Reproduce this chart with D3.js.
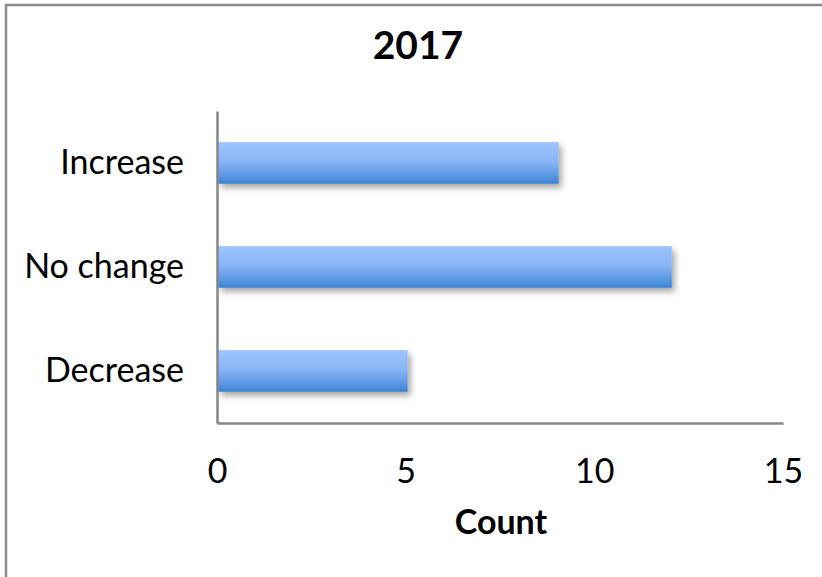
<!DOCTYPE html>
<html><head><meta charset="utf-8">
<script src="https://cdn.jsdelivr.net/npm/d3@7"></script>
<style>html,body{margin:0;padding:0;background:#fff;}svg{display:block;}</style>
</head><body>
<script>
const title = "2017";
const categories = ["Increase", "No change", "Decrease"];
const counts = [9, 12, 5];
const xTicks = [0, 5, 10, 15];
const xLabel = "Count";

(function () {
const W = 822, H = 577;
const FONT = "Lato, 'Open Sans', sans-serif";
const svg = d3.select("body").append("svg").attr("width", W).attr("height", H);

const defs = svg.append("defs");
const grad = defs.append("linearGradient").attr("id", "barGrad")
  .attr("x1", 0).attr("y1", 0).attr("x2", 0).attr("y2", 1);
grad.append("stop").attr("offset", "0%").attr("stop-color", "#9cc3ff");
grad.append("stop").attr("offset", "45%").attr("stop-color", "#8ab6f6");
grad.append("stop").attr("offset", "100%").attr("stop-color", "#3d84d6");
const f = defs.append("filter").attr("id", "shadow").attr("x", "-10%").attr("y", "-30%").attr("width", "130%").attr("height", "190%");
f.append("feDropShadow").attr("dx", 3).attr("dy", 4).attr("stdDeviation", 3)
  .attr("flood-color", "#000").attr("flood-opacity", 0.35);

// outer border
svg.append("rect").attr("x", 6).attr("y", 5).attr("width", W + 10).attr("height", H + 10)
  .attr("fill", "none").attr("stroke", "#8a8a8a").attr("stroke-width", 2.5);

const pL = 217, pR = 783, pT = 111, pB = 423;
const x = d3.scaleLinear().domain([0, 15]).range([pL, pR]);
const y = d3.scaleBand().domain(categories).range([pT, pB]).paddingInner(0.6).paddingOuter(0.3);

// bars
svg.append("g").selectAll("rect").data(categories).join("rect")
  .attr("x", x(0) + 1)
  .attr("y", d => y(d))
  .attr("width", (d, i) => x(counts[i]) - x(0) + 1)
  .attr("height", y.bandwidth())
  .attr("fill", "url(#barGrad)")
  .attr("filter", "url(#shadow)");

// axes
const xAxis = svg.append("g").attr("transform", `translate(0,${pB})`)
  .call(d3.axisBottom(x).tickValues(xTicks).tickSize(0).tickPadding(36).tickFormat(d3.format("d")));
xAxis.select(".domain").attr("stroke", "#868686").attr("stroke-width", 2.5);
xAxis.selectAll("text").attr("font-family", FONT).attr("font-size", 34).attr("fill", "#000");

const yAxis = svg.append("g").attr("transform", `translate(${pL},0)`)
  .call(d3.axisLeft(y).tickSize(0).tickPadding(33));
yAxis.select(".domain").attr("stroke", "#868686").attr("stroke-width", 2.5);
yAxis.selectAll("text").attr("font-family", FONT).attr("font-size", 34).attr("fill", "#000");

// title and axis label
svg.append("text").attr("x", 418).attr("y", 59).attr("text-anchor", "middle")
  .attr("font-family", FONT).attr("font-weight", "bold").attr("font-size", 39).text(title);
svg.append("text").attr("x", 501).attr("y", 534).attr("text-anchor", "middle")
  .attr("font-family", FONT).attr("font-weight", "bold").attr("font-size", 34).text(xLabel);
})();
</script>
</body></html>
